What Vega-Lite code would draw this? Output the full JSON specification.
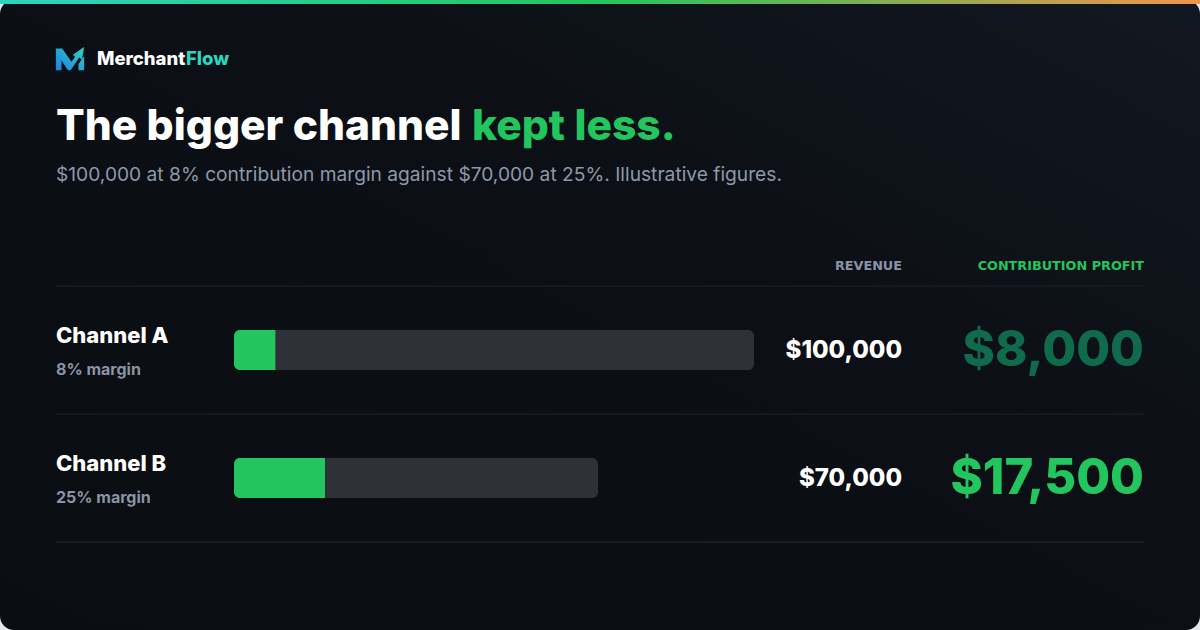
{
  "$schema": "https://vega.github.io/schema/vega-lite/v6.json",
  "description": "Two sales channels: revenue bar with the contribution profit share filled in green.",
  "width": 1200,
  "height": 630,
  "autosize": {"type": "fit", "contains": "padding"},
  "padding": 0,
  "background": "#e5e7eb",
  "config": {
    "view": {
      "fill": {
        "gradient": "linear",
        "x1": 0, "y1": 1, "x2": 1, "y2": 0,
        "stops": [
          {"offset": 0, "color": "#0a0d11"},
          {"offset": 0.6, "color": "#0c0f15"},
          {"offset": 1, "color": "#121821"}
        ]
      },
      "stroke": null,
      "cornerRadius": 14
    },
    "text": {"font": "Inter"}
  },
  "datasets": {
    "header": [
      {
        "brand": "Merchant",
        "brand2": "Flow",
        "title": "The bigger channel",
        "title2": "kept less.",
        "subtitle": "$100,000 at 8% contribution margin against $70,000 at 25%. Illustrative figures.",
        "col_revenue": "REVENUE",
        "col_profit": "CONTRIBUTION PROFIT"
      }
    ],
    "channels": [
      {"channel": "Channel A", "note": "8% margin", "revenue": 100000, "profit": 8000},
      {"channel": "Channel B", "note": "25% margin", "revenue": 70000, "profit": 17500}
    ]
  },
  "resolve": {"scale": {"x": "independent", "y": "independent"}},
  "layer": [
    {
      "data": {"name": "header"},
      "layer": [
        {
          "mark": {
            "type": "rect",
            "fill": {
              "gradient": "linear",
              "x1": 0, "y1": 0, "x2": 1, "y2": 0,
              "stops": [
                {"offset": 0, "color": "#2dd4bf"},
                {"offset": 0.5, "color": "#22c55e"},
                {"offset": 1, "color": "#f0954a"}
              ]
            }
          },
          "encoding": {
            "x": {"datum": 0, "type": "quantitative", "scale": {"domain": [0, 1200], "nice": false, "zero": false}, "axis": null},
            "x2": {"datum": 1200},
            "y": {"datum": 0, "type": "quantitative", "scale": {"domain": [0, 630], "nice": false, "zero": false, "reverse": true}, "axis": null},
            "y2": {"datum": 4}
          }
        },
        {
          "mark": {
            "type": "point",
            "filled": true,
            "opacity": 1,
            "size": 800,
            "shape": "M -1 -0.75 L -0.55 -0.75 L 0.1 0.2 L 0.35 -0.15 L 0.2 -0.3 L 1 -0.85 L 0.85 0.05 L 0.65 -0.1 L 0.05 0.8 L -0.15 0.8 L -0.6 0.1 L -0.6 0.8 L -1 0.8 Z M 0.6 0.35 L 1 -0.2 L 1 0.8 L 0.6 0.8 Z",
            "fill": {
              "gradient": "linear",
              "x1": 0, "y1": 1, "x2": 1, "y2": 0,
              "stops": [
                {"offset": 0, "color": "#1d7fe6"},
                {"offset": 1, "color": "#2dd4bf"}
              ]
            }
          },
          "encoding": {
            "x": {"datum": 70, "type": "quantitative", "axis": null},
            "y": {"datum": 59, "type": "quantitative", "axis": null}
          }
        },
        {
          "mark": {"type": "text", "align": "left", "baseline": "alphabetic", "fontSize": 18.5, "fontWeight": 800, "color": "#ffffff"},
          "encoding": {
            "x": {"datum": 97, "type": "quantitative", "axis": null},
            "y": {"datum": 65, "type": "quantitative", "axis": null},
            "text": {"field": "brand"}
          }
        },
        {
          "mark": {"type": "text", "align": "left", "baseline": "alphabetic", "fontSize": 18.5, "fontWeight": 800, "color": "#2dd4bf"},
          "encoding": {
            "x": {"datum": 186, "type": "quantitative", "axis": null},
            "y": {"datum": 65, "type": "quantitative", "axis": null},
            "text": {"field": "brand2"}
          }
        },
        {
          "mark": {"type": "text", "align": "left", "baseline": "alphabetic", "fontSize": 42.5, "fontWeight": 800, "color": "#ffffff"},
          "encoding": {
            "x": {"datum": 56, "type": "quantitative", "axis": null},
            "y": {"datum": 140, "type": "quantitative", "axis": null},
            "text": {"field": "title"}
          }
        },
        {
          "mark": {"type": "text", "align": "left", "baseline": "alphabetic", "fontSize": 42.5, "fontWeight": 800, "color": "#22c55e"},
          "encoding": {
            "x": {"datum": 472, "type": "quantitative", "axis": null},
            "y": {"datum": 140, "type": "quantitative", "axis": null},
            "text": {"field": "title2"}
          }
        },
        {
          "mark": {"type": "text", "align": "left", "baseline": "alphabetic", "fontSize": 19.2, "fontWeight": 400, "color": "#8e98ab"},
          "encoding": {
            "x": {"datum": 56, "type": "quantitative", "axis": null},
            "y": {"datum": 181, "type": "quantitative", "axis": null},
            "text": {"field": "subtitle"}
          }
        },
        {
          "mark": {"type": "text", "align": "right", "baseline": "alphabetic", "font": "DejaVu Sans", "fontSize": 12.8, "fontWeight": 700, "color": "#8a94a6"},
          "encoding": {
            "x": {"datum": 902, "type": "quantitative", "axis": null},
            "y": {"datum": 270, "type": "quantitative", "axis": null},
            "text": {"field": "col_revenue"}
          }
        },
        {
          "mark": {"type": "text", "align": "right", "baseline": "alphabetic", "font": "DejaVu Sans", "fontSize": 12.8, "fontWeight": 700, "color": "#22c55e"},
          "encoding": {
            "x": {"datum": 1144, "type": "quantitative", "axis": null},
            "y": {"datum": 270, "type": "quantitative", "axis": null},
            "text": {"field": "col_profit"}
          }
        }
      ]
    },
    {
      "data": {"name": "channels"},
      "encoding": {
        "y": {
          "field": "channel",
          "type": "nominal",
          "scale": {"domain": ["Channel A", "Channel B"], "range": [286, 542], "paddingInner": 0, "paddingOuter": 0},
          "axis": null
        }
      },
      "resolve": {"scale": {"x": "independent"}},
      "layer": [
        {
          "layer": [
            {
              "mark": {"type": "bar", "color": "#2e3137", "cornerRadius": 6, "height": {"band": 0.3125}},
              "encoding": {
                "x": {"field": "revenue", "type": "quantitative", "scale": {"domain": [0, 100000], "range": [234, 754]}, "axis": null}
              }
            },
            {
              "mark": {"type": "bar", "color": "#22c55e", "cornerRadiusTopLeft": 6, "cornerRadiusBottomLeft": 6, "height": {"band": 0.3125}},
              "encoding": {
                "x": {"field": "profit", "type": "quantitative", "axis": null}
              }
            }
          ]
        },
        {
          "layer": [
            {
              "mark": {"type": "rule", "color": "#1d222a", "strokeWidth": 1},
              "encoding": {
                "x": {"datum": 56, "type": "quantitative", "scale": {"domain": [0, 1200], "range": [0, 1200]}, "axis": null},
                "x2": {"datum": 1144},
                "y": {"field": "channel", "type": "nominal", "bandPosition": 0}
              }
            },
            {
              "mark": {"type": "rule", "color": "#1d222a", "strokeWidth": 1},
              "encoding": {
                "x": {"datum": 56, "type": "quantitative", "axis": null},
                "x2": {"datum": 1144},
                "y": {"datum": "Channel B", "type": "nominal", "bandPosition": 1}
              }
            },
            {
              "mark": {"type": "text", "align": "left", "baseline": "alphabetic", "dy": -7, "fontSize": 22, "fontWeight": 800, "color": "#ffffff"},
              "encoding": {
                "x": {"datum": 56, "type": "quantitative", "axis": null},
                "text": {"field": "channel"}
              }
            },
            {
              "mark": {"type": "text", "align": "left", "baseline": "alphabetic", "dy": 25, "fontSize": 16, "fontWeight": 700, "color": "#8a94a6"},
              "encoding": {
                "x": {"datum": 56, "type": "quantitative", "axis": null},
                "text": {"field": "note"}
              }
            },
            {
              "mark": {"type": "text", "align": "right", "baseline": "middle", "dy": 1, "fontSize": 24, "fontWeight": 800, "color": "#ffffff"},
              "encoding": {
                "x": {"datum": 902, "type": "quantitative", "axis": null},
                "text": {"field": "revenue", "type": "quantitative", "format": "$,.0f"}
              }
            },
            {
              "mark": {"type": "text", "align": "right", "baseline": "middle", "dy": 1, "fontSize": 49, "fontWeight": 800},
              "encoding": {
                "x": {"datum": 1144, "type": "quantitative", "axis": null},
                "text": {"field": "profit", "type": "quantitative", "format": "$,.0f"},
                "color": {
                  "field": "channel",
                  "type": "nominal",
                  "scale": {"domain": ["Channel A", "Channel B"], "range": ["#0f6b4b", "#22c55e"]},
                  "legend": null
                }
              }
            }
          ]
        }
      ]
    }
  ]
}
